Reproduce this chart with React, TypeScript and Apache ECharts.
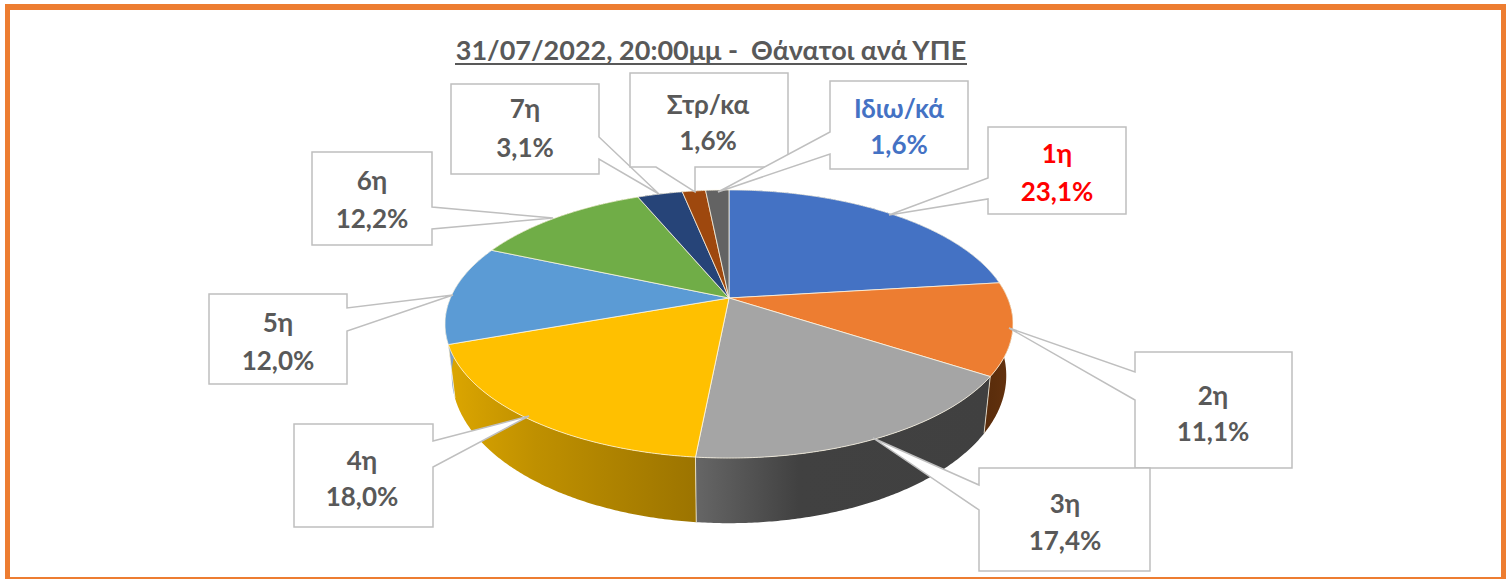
import React, { useEffect, useRef } from "react";
import * as echarts from "echarts";

const titleText = "31/07/2022, 20:00μμ -  Θάνατοι ανά ΥΠΕ";
const categories = ["1η", "2η", "3η", "4η", "5η", "6η", "7η", "Στρ/κα", "Ιδιω/κά"];
const shares = [23.1, 11.1, 17.4, 18.0, 12.0, 12.2, 3.1, 1.6, 1.6];

const topColors = ["#4472C4", "#ED7D31", "#A5A5A5", "#FFC000", "#5B9BD5", "#70AD47", "#264478", "#9E480E", "#636363"];
const sideFrom = ["#2f5597", "#5a2c0b", "#666666", "#dca600", "#7d9cc0", "#4f7a32", "#1a2f55", "#6e320a", "#454545"];
const sideMid = ["#2f5597", "#5c2e0c", "#414141", "#bf9000", "#7d9cc0", "#4f7a32", "#1a2f55", "#6e320a", "#454545"];
const sideTo = ["#2f5597", "#66330f", "#404040", "#9c7400", "#7d9cc0", "#4f7a32", "#1a2f55", "#6e320a", "#454545"];
const labelColors = ["#FF0000", "#595959", "#595959", "#595959", "#595959", "#595959", "#595959", "#595959", "#4472C4"];

// [left, top, right, bottom] of each label box
const boxes = [
  [988, 127, 1126, 214],
  [1135, 352, 1292, 468],
  [979, 468, 1150, 571],
  [294, 424, 433, 527],
  [209, 294, 347, 384],
  [312, 152, 432, 245],
  [451, 84, 599, 174],
  [630, 73, 788, 167],
  [830, 81, 968, 169],
];
// callout outline points, from the box edge to the tip and back
const callouts = [
  [[988, 178], [889, 215], [988, 199]],
  [[1135, 372], [1009, 328], [1135, 400]],
  [[979, 485], [873, 438], [979, 510]],
  [[433, 441], [529, 416], [433, 467]],
  [[347, 308], [453, 295], [347, 331]],
  [[432, 207], [553, 218], [432, 229]],
  [[599, 137], [659, 194], [599, 159]],
  [[656, 167], [695, 192], [695, 167]],
  [[830, 132], [718, 192], [830, 154]],
];
const textCentres = [
  [1057, 153, 191],
  [1213, 395, 431],
  [1065, 503, 540],
  [362, 460, 496],
  [278, 322, 360],
  [372, 180, 218],
  [525, 108, 147],
  [708, 104, 140],
  [899, 108, 144],
];

const PIE = { cx: 729, cy: 298, a: 278.6, b: 129, k: 0.194, a2: 272, b2: 142, cy2: 347 };
const FONT = "Lato, 'Noto Sans', sans-serif";
const total = shares.reduce((s, v) => s + v, 0);

const project = (deg: number, a: number, b: number, cy: number) => {
  const t = (deg * Math.PI) / 180;
  const w = 1 / (1 + PIE.k * Math.cos(t));
  return [PIE.cx + a * Math.sin(t) * w, cy - b * Math.cos(t) * w];
};
const topPoint = (deg: number) => project(deg, PIE.a, PIE.b, PIE.cy);
const lowPoint = (deg: number) => project(deg, PIE.a2, PIE.b2, PIE.cy2);
const angleRange = (index: number) => {
  const before = shares.slice(0, index).reduce((s, v) => s + v, 0);
  return [(before / total) * 360, ((before + shares[index]) / total) * 360];
};
const arc = (from: number, to: number, f: (d: number) => number[]) => {
  const n = Math.max(2, Math.ceil((to - from) * 2));
  const pts: number[][] = [];
  for (let i = 0; i <= n; i++) pts.push(f(from + ((to - from) * i) / n));
  return pts;
};
const formatShare = (v: number) => v.toFixed(1).replace(".", ",") + "%";

export default function App() {
  const ref = useRef<HTMLDivElement>(null);
  useEffect(() => {
    document.body.style.margin = "0";
    const chart = echarts.init(ref.current!, undefined, { renderer: "svg" });
    const data = shares.map((v) => [v]);
    const edge = "rgba(255,248,230,0.75)";
    chart.setOption({
      animation: false,
      backgroundColor: "#ffffff",
      title: {
        text: titleText,
        left: 706,
        top: 31,
        textAlign: "center",
        textStyle: { fontFamily: FONT, fontSize: 27, fontWeight: "bold", color: "#595959" },
      },
      graphic: [
        { type: "rect", shape: { x: 5, y: 4, width: 1501, height: 6 }, style: { fill: "#ED7D31" } },
        { type: "rect", shape: { x: 5, y: 4, width: 5, height: 575 }, style: { fill: "#ED7D31" } },
        { type: "rect", shape: { x: 1501, y: 4, width: 5, height: 575 }, style: { fill: "#ED7D31" } },
        { type: "rect", shape: { x: 5, y: 577, width: 1501, height: 2 }, style: { fill: "#ED7D31" } },
        { type: "rect", shape: { x: 455, y: 63, width: 512, height: 2 }, style: { fill: "#595959" } },
      ],
      series: [
        {
          type: "custom",
          coordinateSystem: "none",
          z: 2,
          data,
          renderItem: (params: any) => {
            const i = params.dataIndex;
            const [from, to] = angleRange(i);
            const points = arc(from, to, topPoint).concat(arc(from, to, lowPoint).reverse());
            return {
              type: "group",
              children: [
                {
                  type: "polygon",
                  shape: { points },
                  style: {
                    fill: new echarts.graphic.LinearGradient(0, 0, 1, 0, [
                      { offset: 0, color: sideFrom[i] },
                      { offset: 0.35, color: sideMid[i] },
                      { offset: 1, color: sideTo[i] },
                    ]),
                  },
                },
                {
                  type: "polyline",
                  shape: { points: [topPoint(from), lowPoint(from)] },
                  style: { stroke: edge, lineWidth: 1, fill: "none" },
                },
              ],
            };
          },
        },
        {
          type: "custom",
          coordinateSystem: "none",
          z: 3,
          data,
          renderItem: (params: any) => {
            const i = params.dataIndex;
            const [from, to] = angleRange(i);
            return {
              type: "polygon",
              shape: { points: [[PIE.cx, PIE.cy], ...arc(from, to, topPoint)] },
              style: { fill: topColors[i], stroke: edge, lineWidth: 1, lineJoin: "round" },
            };
          },
        },
        {
          type: "custom",
          coordinateSystem: "none",
          z: 4,
          data,
          renderItem: (params: any, api: any) => {
            const i = params.dataIndex;
            const [l, t, r, b] = boxes[i];
            const [cx, y1, y2] = textCentres[i];
            const c = callouts[i];
            let outline: number[][];
            if (c[0][1] === b) {
              outline = [[l, t], [r, t], [r, b], c[2], c[1], c[0], [l, b]];
            } else if (c[0][0] === l) {
              outline = [[l, t], [r, t], [r, b], [l, b], c[2], c[1], c[0]];
            } else {
              outline = [[l, t], [r, t], c[0], c[1], c[2], [r, b], [l, b]];
            }
            const textStyle = {
              fontFamily: FONT,
              fontSize: 26,
              fontWeight: "bold",
              fill: labelColors[i],
              align: "center",
              verticalAlign: "middle",
            };
            return {
              type: "group",
              children: [
                {
                  type: "polygon",
                  shape: { points: outline },
                  style: { fill: "#ffffff", stroke: "#BFBFBF", lineWidth: 1.5 },
                },
                { type: "text", x: cx, y: y1, style: { ...textStyle, text: categories[i] } },
                { type: "text", x: cx, y: y2, style: { ...textStyle, text: formatShare(api.value(0)) } },
              ],
            };
          },
        },
      ],
    });
    return () => chart.dispose();
  }, []);
  return <div ref={ref} style={{ width: 1506, height: 579 }} />;
}
